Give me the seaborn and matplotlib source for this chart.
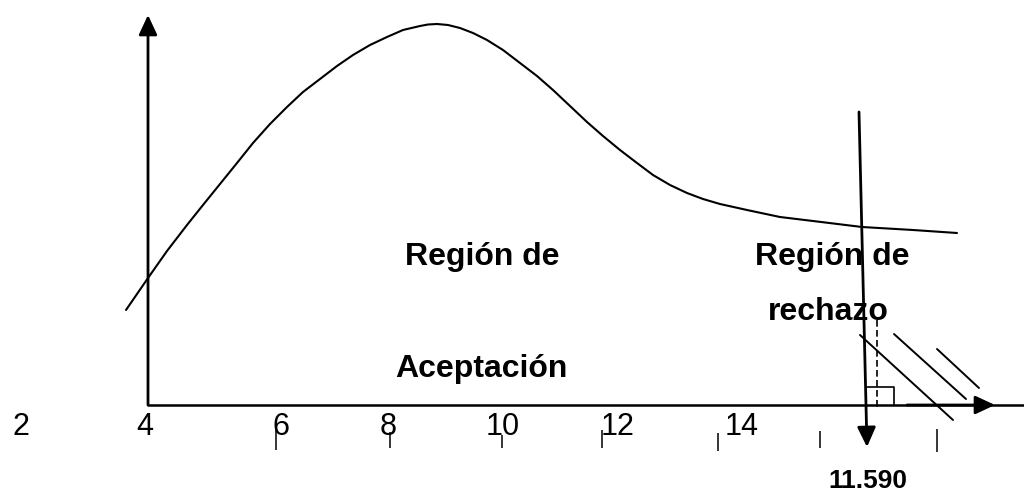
from __future__ import annotations

import matplotlib

matplotlib.use("Agg")

import matplotlib.pyplot as plt
import seaborn as sns

# curve (canvas units, y grows downward)
curve_x = [126, 137, 148, 167, 187, 203, 220, 237, 253, 270, 287, 303, 320,
           337, 353, 370, 387, 403, 420, 428, 437, 448, 460, 473, 487, 503,
           520, 537, 553, 570, 587, 603, 620, 637, 653, 670, 687, 703, 720,
           747, 780, 813, 862, 913, 957]
curve_y = [310, 294, 278, 251, 225, 205, 184, 163, 143, 124, 107, 92, 79,
           66, 55, 45, 37, 30, 26, 24.5, 24, 25, 28, 33, 40, 50,
           63, 76, 90, 106, 122, 136, 150, 163, 175, 185, 193, 199, 204,
           210, 217, 221, 227, 230, 233]

tick_labels = ["2", "4", "6", "8", "10", "12", "14"]
region_labels = ["Región de", "Aceptación", "Región de", "rechazo"]
critical_label = "11.590"

# layout (canvas units)
label_x = [21, 145, 281, 388, 503, 618, 742]
label_baseline = 435
tick_x = [276, 390, 502, 602, 718, 820, 937]
tick_top = [425, 432, 435, 430, 433, 431, 429]
tick_bottom = [450, 448, 448, 448, 451, 448, 452]
region_pos = [(405, 265), (395, 377), (755, 265), (768, 320)]
critical_pos = (828, 488)
axis_y = 405
axis_x = 148

sns.set_theme(style="white")
plt.rcParams["font.family"] = ["Liberation Sans", "DejaVu Sans"]
plt.rcParams["text.color"] = "black"

fig = plt.figure(figsize=(10.24, 4.91), dpi=100)
ax = fig.add_axes([0, 0, 1, 1])
ax.set_xlim(0, 1024)
ax.set_ylim(491, 0)
ax.axis("off")

sns.lineplot(x=curve_x, y=curve_y, estimator=None, color="black", lw=1.5, ax=ax)


def arrow(start, end, lw=2.0, head=(1.5, 0.7)):
    ax.annotate(
        "", xy=end, xytext=start,
        arrowprops=dict(
            arrowstyle=f"-|>,head_length={head[0]},head_width={head[1]}",
            color="black", lw=lw, shrinkA=0, shrinkB=0, mutation_scale=8,
        ),
    )


# axes
arrow((axis_x, axis_y), (axis_x, 15))
ax.plot([axis_x, 1024], [axis_y, axis_y], color="black", lw=1.8)
ax.vlines(tick_x, tick_top, tick_bottom, color="black", lw=1.1)

# critical value marker
arrow((859, 112), (867, 447))
arrow((907, axis_y), (995, axis_y))
ax.plot([877, 877], [320, 408], color="black", lw=1.2, ls=(0, (4, 2)))
ax.plot([867, 894, 894], [387, 387, axis_y], color="black", lw=1.2)
for (x0, y0), (x1, y1) in [((860, 335), (953, 420)),
                           ((894, 334), (966, 399)),
                           ((937, 349), (979, 388))]:
    ax.plot([x0, x1], [y0, y1], color="black", lw=1.4)

for lab, x in zip(tick_labels, label_x):
    ax.text(x, label_baseline, lab, ha="center", va="baseline", fontsize=22,
            color="black")

for lab, (x, y) in zip(region_labels, region_pos):
    ax.text(x, y, lab, ha="left", va="baseline", fontsize=23,
            fontweight="bold", color="black")

ax.text(*critical_pos, critical_label, ha="left", va="baseline",
        fontsize=19, fontweight="bold", color="black")

fig.savefig("out.png", dpi=100, facecolor="white")
plt.close(fig)
